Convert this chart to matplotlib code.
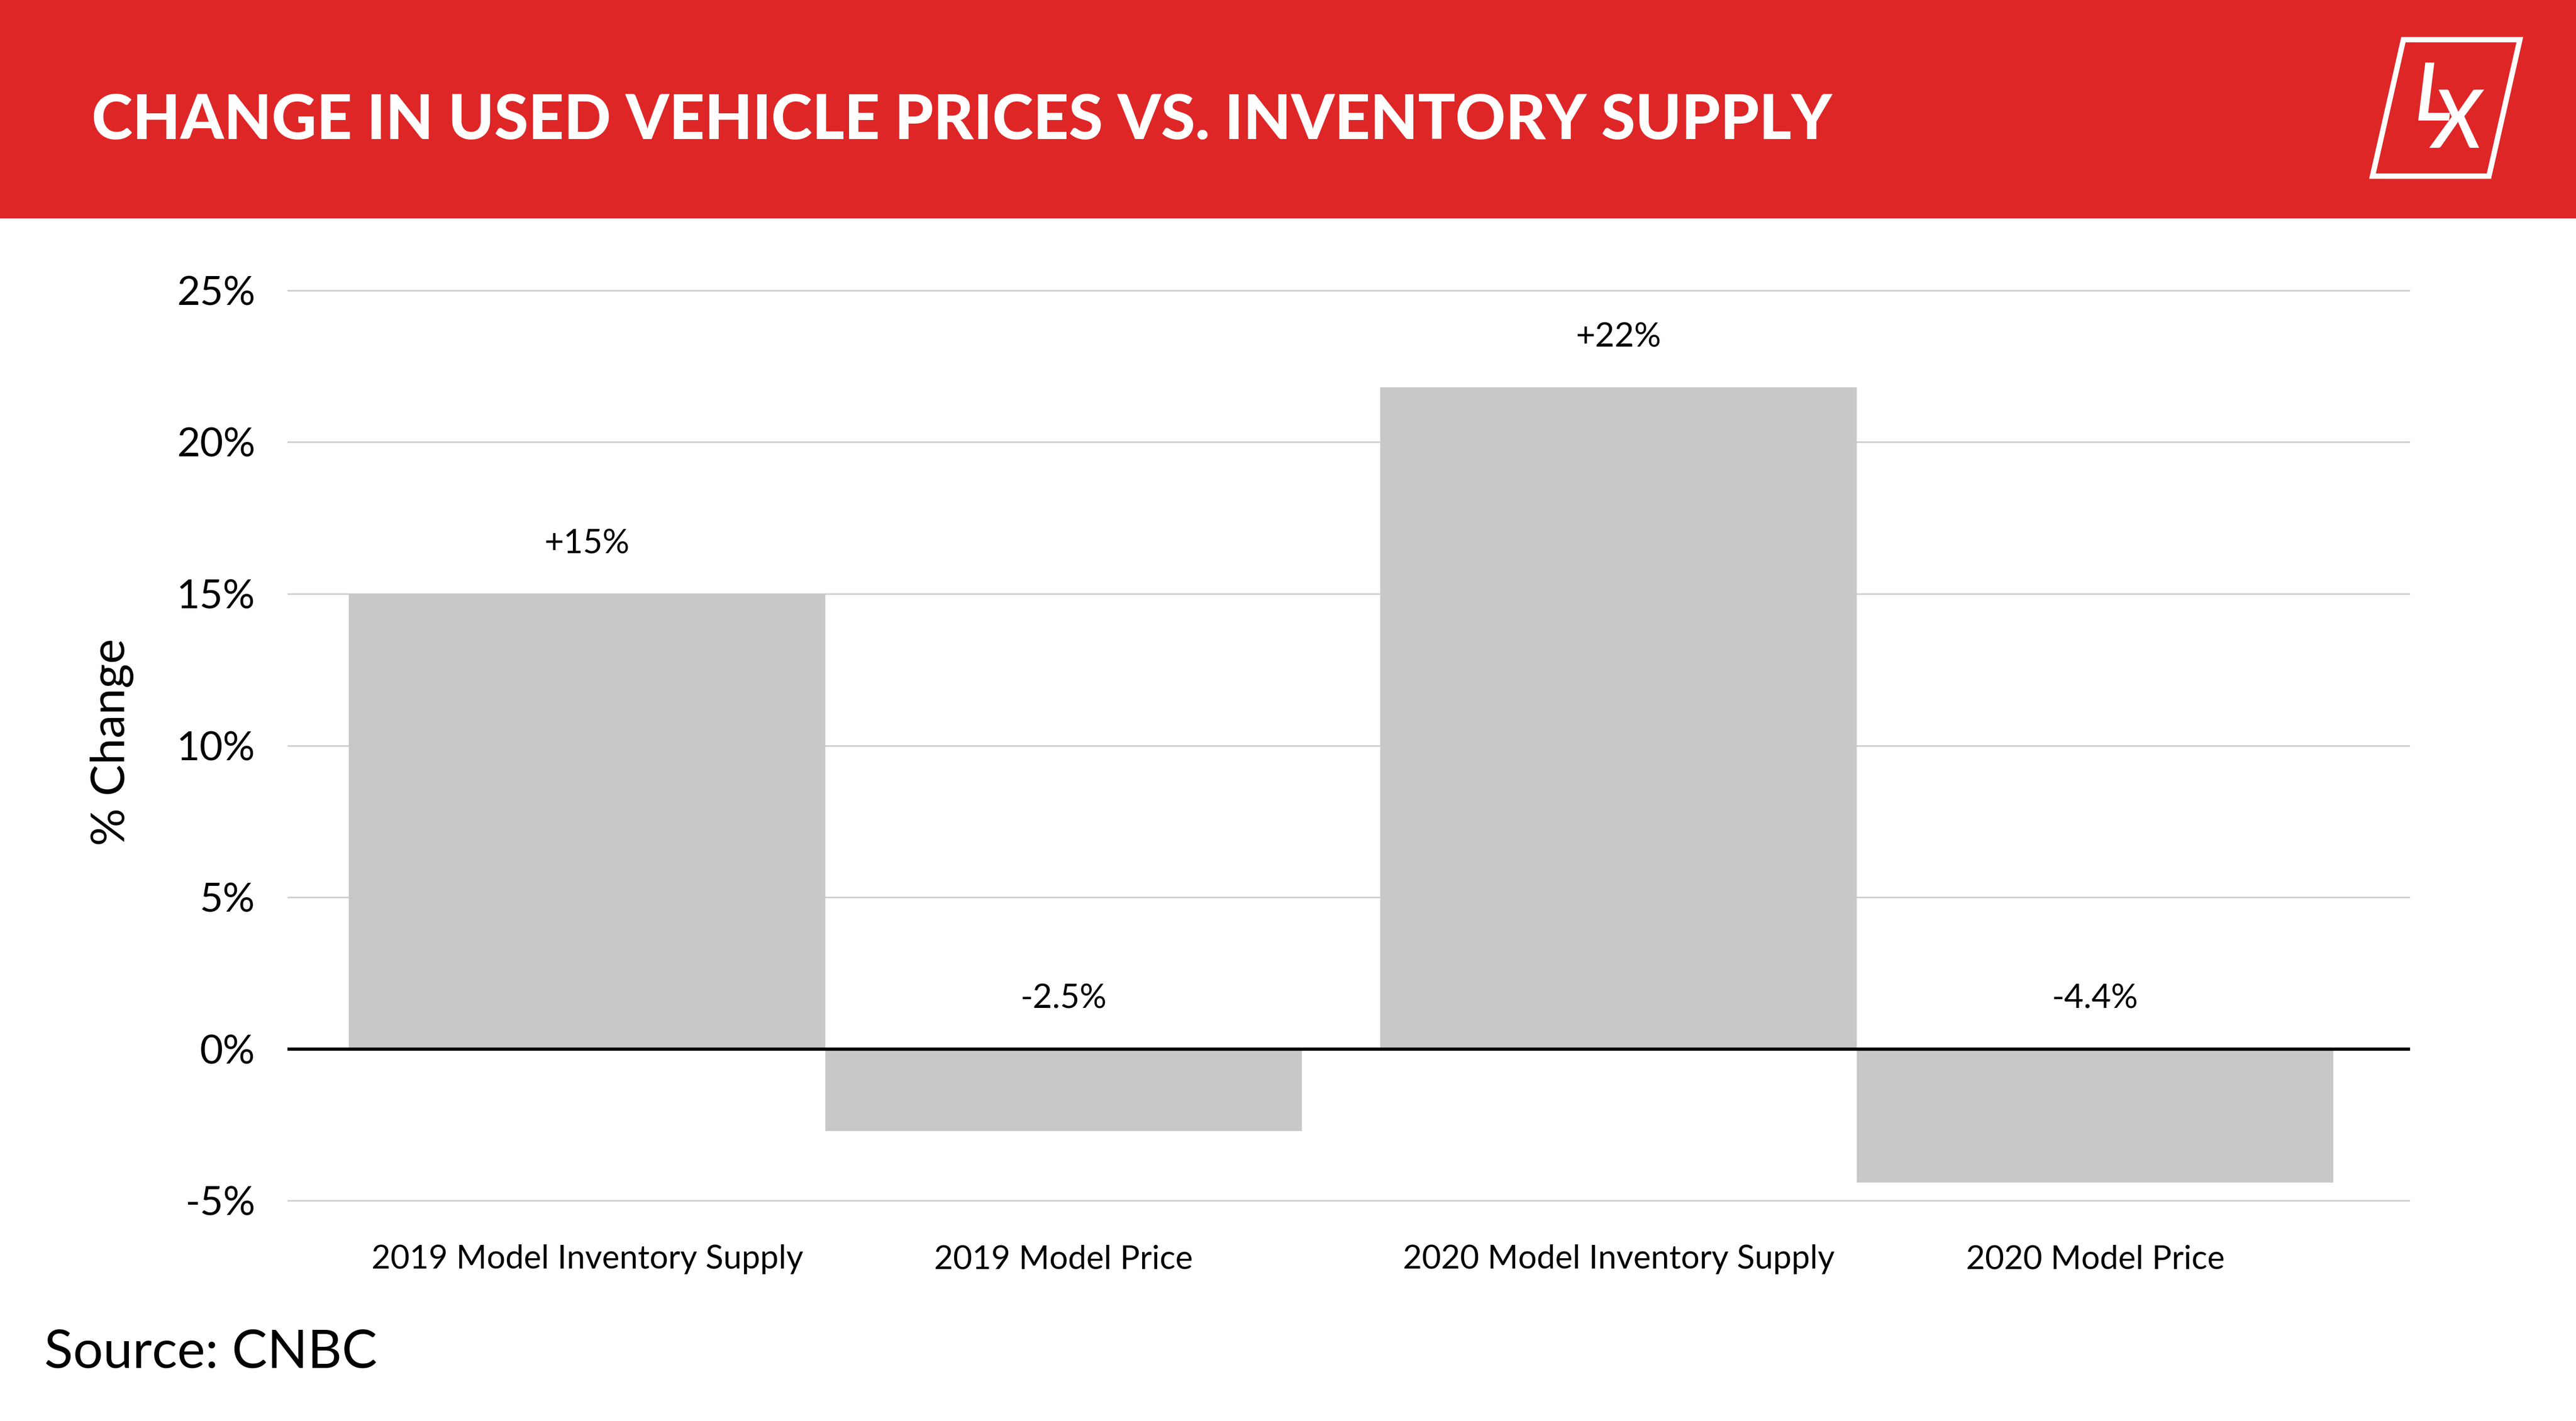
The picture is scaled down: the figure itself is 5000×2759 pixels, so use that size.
import numpy as np
import matplotlib
matplotlib.use("Agg")
import matplotlib.pyplot as plt
from matplotlib.patches import Rectangle, Polygon

# data
categories = ["2019 Model Inventory Supply", "2019 Model Price",
              "2020 Model Inventory Supply", "2020 Model Price"]
values = [15.0, -2.7, 21.8, -4.4]
value_labels = ["+15%", "-2.5%", "+22%", "-4.4%"]
groups = [0, 0, 1, 1]
yticks = [-5, 0, 5, 10, 15, 20, 25]

title = "CHANGE IN USED VEHICLE PRICES VS. INVENTORY SUPPLY"
source = "Source: CNBC"

RED = "#DF2627"
BAR = "#C8C8C8"
GRID = "#CFCFCF"
FONT = "Lato"

W, H = 5000, 2759
fig = plt.figure(figsize=(W / 100, H / 100), dpi=100)
fig.patch.set_facecolor("white")

# overlay in pixel coordinates for the banner and the logo
over = fig.add_axes([0, 0, 1, 1], zorder=0)
over.set_xlim(0, W)
over.set_ylim(H, 0)
over.axis("off")
over.add_patch(Rectangle((0, 0), W, 424, facecolor=RED, edgecolor="none"))
over.add_patch(Polygon([(4665, 77), (4891, 77), (4831, 342), (4605, 342)],
                       closed=True, fill=False, edgecolor="white",
                       linewidth=7.5, joinstyle="miter"))
# staggered L / X of the logo as one two-line text
over.text(4686, 118, "L\n X", color="white", fontsize=112, family=FONT,
          fontstyle="italic", fontweight="semibold", ha="left", va="top",
          linespacing=0.22)

fig.text(178 / W, 1 - 270 / H, title, color="white", fontsize=86.5,
         family=FONT, fontweight="black", ha="left", va="baseline")

# chart
ax = fig.add_axes([558 / W, 0.1540, (4678 - 558) / W, 0.7967 - 0.1540], zorder=1)
ax.patch.set_alpha(0)

pos = np.array([g * 2.165 + i % 2 for i, g in enumerate(groups)])
ax.bar(pos, values, width=1.0, color=BAR, zorder=2, linewidth=0)
ax.axhline(0, color="black", linewidth=4.5, zorder=3)

for x, v, lab in zip(pos, values, value_labels):
    ax.annotate(lab, (x, max(v, 0)), xytext=(0, 70), textcoords="offset points",
                ha="center", va="center", fontsize=47, family=FONT, color="black")

ax.set_xlim(-0.629, 3.826)
ax.set_ylim(-5.05, 25.05)
ax.set_yticks(yticks)
ax.set_yticklabels([f"{t}%" for t in yticks])
ax.set_xticks(pos)
ax.set_xticklabels(categories)
ax.yaxis.grid(True, color=GRID, linewidth=2.2, zorder=0)
ax.set_axisbelow(True)
for s in ax.spines.values():
    s.set_visible(False)
ax.tick_params(axis="y", length=0, pad=45, labelsize=56)
ax.tick_params(axis="x", length=0, pad=59, labelsize=46)
for t in ax.get_xticklabels() + ax.get_yticklabels():
    t.set_family(FONT)

fig.text(217 / W, 1 - 1441 / H, "% Change", rotation=90, fontsize=66,
         family=FONT, ha="center", va="center")
fig.text(86 / W, 1 - 2656 / H, source, fontsize=74, family=FONT,
         ha="left", va="baseline")

fig.savefig("out.png", dpi=100)
